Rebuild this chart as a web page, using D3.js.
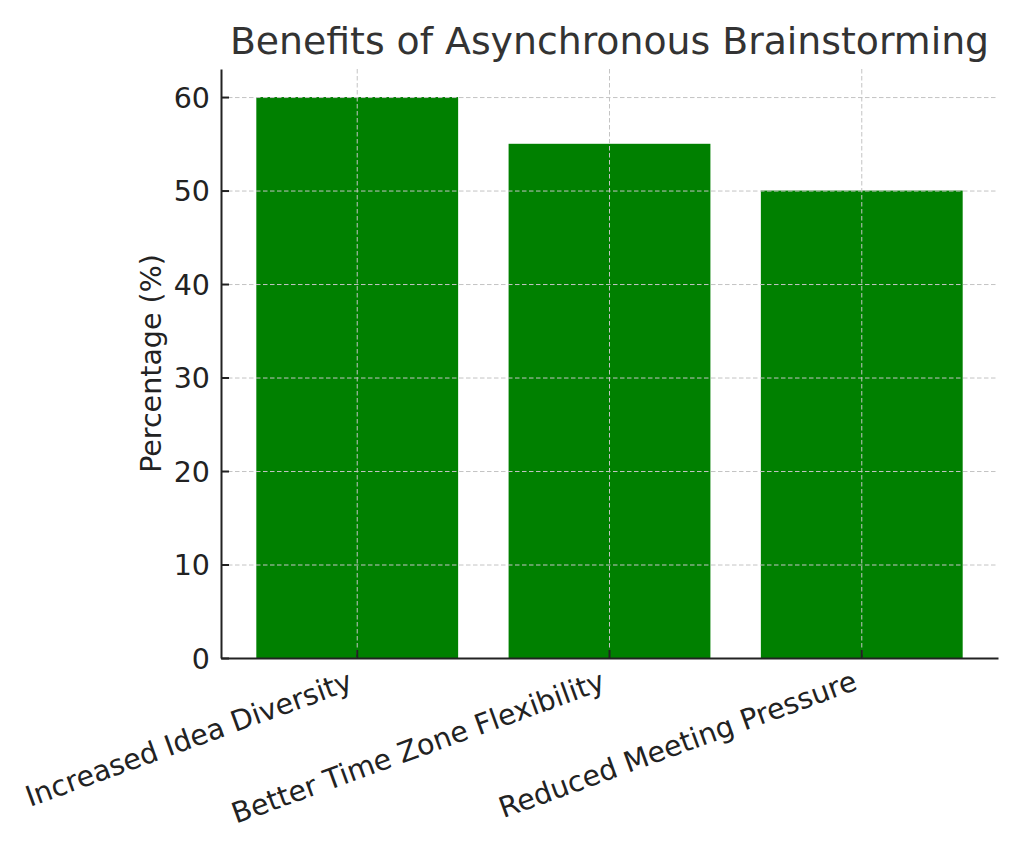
<!DOCTYPE html>
<html>
<head>
<meta charset="utf-8">
<script src="https://cdn.jsdelivr.net/npm/d3@7"></script>
<style>
  body { margin: 0; background: #fff; }
  text { font-family: "DejaVu Sans", "Verdana", sans-serif !important; }
</style>
</head>
<body>
<div id="chart"></div>
<script>
const categories = ["Increased Idea Diversity", "Better Time Zone Flexibility", "Reduced Meeting Pressure"];
const values = [60, 55, 50];
const yTicks = [0, 10, 20, 30, 40, 50, 60];

const W = 1024, H = 853;
const margin = { top: 69, right: 26, bottom: 195, left: 221 };
const width = W - margin.left - margin.right;
const height = H - margin.top - margin.bottom;
const font = "'DejaVu Sans', sans-serif";
const labelSize = "28.5px";

const svg = d3.select("#chart")
  .append("svg")
    .attr("width", W)
    .attr("height", H);

const g = svg.append("g")
  .attr("transform", `translate(${margin.left},${margin.top})`);

const x = d3.scaleBand()
  .domain(categories)
  .range([0, width])
  .paddingInner(0.2)
  .paddingOuter(0.14);

const y = d3.scaleLinear()
  .domain([0, 63])
  .range([height, 0]);

// bars
g.selectAll("rect.bar")
  .data(values)
  .join("rect")
    .attr("class", "bar")
    .attr("x", (d, i) => x(categories[i]))
    .attr("y", d => y(d))
    .attr("width", x.bandwidth())
    .attr("height", d => height - y(d))
    .attr("fill", "#008000");

// grid (drawn on top of bars, like the original)
const grid = g.append("g")
  .attr("stroke", "#c4c4c4")
  .attr("stroke-width", 1)
  .attr("stroke-dasharray", "4.5,2.5");

grid.selectAll("line.gy")
  .data(yTicks)
  .join("line")
    .attr("x1", 0)
    .attr("x2", width)
    .attr("y1", d => y(d) + 0.5)
    .attr("y2", d => y(d) + 0.5);

grid.selectAll("line.gx")
  .data(categories)
  .join("line")
    .attr("x1", d => x(d) + x.bandwidth() / 2)
    .attr("x2", d => x(d) + x.bandwidth() / 2)
    .attr("y1", 0)
    .attr("y2", height);

// axes with inward ticks
const yAxis = g.append("g")
  .call(d3.axisLeft(y).tickValues(yTicks).tickSizeInner(-8).tickSizeOuter(0).tickPadding(11));

const xAxis = g.append("g")
  .attr("transform", `translate(0,${height})`)
  .call(d3.axisBottom(x).tickSizeInner(-8).tickSizeOuter(0).tickFormat(""));

[yAxis, xAxis].forEach(ax => {
  ax.attr("font-family", font);
  ax.select(".domain").attr("stroke", "#222").attr("stroke-width", 2);
  ax.selectAll(".tick line").attr("stroke", "#222").attr("stroke-width", 2);
});

yAxis.selectAll(".tick text")
  .attr("fill", "#222")
  .style("font-size", labelSize)
  .attr("dy", "0.36em");

// rotated category labels
g.selectAll("text.xl")
  .data(categories)
  .join("text")
    .attr("class", "xl")
    .attr("text-anchor", "end")
    .attr("fill", "#222")
    .style("font-size", labelSize)
    .attr("transform", d => `translate(${x(d) + x.bandwidth() / 2 - 3},${height + 31}) rotate(-20)`)
    .text(d => d);

// y axis label
svg.append("text")
  .attr("transform", `translate(161,${margin.top + height / 2}) rotate(-90)`)
  .attr("text-anchor", "middle")
  .attr("fill", "#222")
  .style("font-size", labelSize)
  .text("Percentage (%)");

// title
svg.append("text")
  .attr("x", margin.left + width / 2)
  .attr("y", 54)
  .attr("text-anchor", "middle")
  .attr("fill", "#333")
  .style("font-size", "37.8px")
  .text("Benefits of Asynchronous Brainstorming");
</script>
</body>
</html>
